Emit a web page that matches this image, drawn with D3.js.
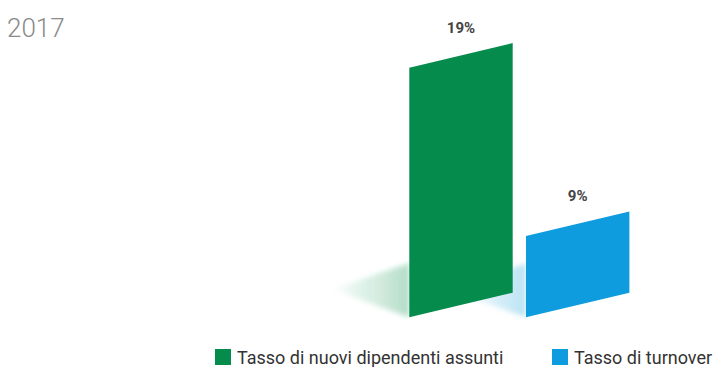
<!DOCTYPE html>
<html>
<head>
<meta charset="utf-8">
<script src="https://cdn.jsdelivr.net/npm/d3@7/dist/d3.min.js"></script>
<style>
  html, body { margin: 0; padding: 0; background: #fff; }
  svg { display: block; font-family: Roboto, "Noto Sans", sans-serif; }
</style>
</head>
<body>
<svg id="chart" width="714" height="367"></svg>
<script>
// Data
const title = "2017";
const categories = ["Tasso di nuovi dipendenti assunti", "Tasso di turnover"];
const values = [19, 9];
const valueLabels = ["19%", "9%"];
const colors = ["#058c4c", "#0e9cdf"];
const shadowColors = ["#1c9a5c", "#3aaee0"];

const svg = d3.select("#chart");
const defs = svg.append("defs");

// Layout
const baseY = 317.3;      // bottom of bars at their left edge
const skew = 24.6;        // rise of top/bottom edges across one bar
const scaleFloor = 4.17;  // value that maps to zero height

const x = d3.scaleBand()
  .domain(categories)
  .range([409.3, 629.4])
  .paddingInner(0.114)
  .paddingOuter(0);

const h = d3.scaleLinear()
  .domain([scaleFloor, 19])
  .range([0, 249.6]);

const bw = x.bandwidth();

// Soft shadow filter
defs.append("filter")
  .attr("id", "soft")
  .attr("x", "-20%").attr("y", "-30%").attr("width", "140%").attr("height", "160%")
  .append("feGaussianBlur").attr("stdDeviation", 2.5);

categories.forEach((c, i) => {
  const g = defs.append("linearGradient")
    .attr("id", "shade" + i)
    .attr("x1", "1").attr("y1", "0").attr("x2", "0").attr("y2", "0");
  g.append("stop").attr("offset", "0").attr("stop-color", shadowColors[i]).attr("stop-opacity", 0.34);
  g.append("stop").attr("offset", "0.55").attr("stop-color", shadowColors[i]).attr("stop-opacity", 0.14);
  g.append("stop").attr("offset", "1").attr("stop-color", shadowColors[i]).attr("stop-opacity", 0);
});

// Shadows lying behind each bar
const shadowLayer = svg.append("g");
shadowLayer.selectAll("path")
  .data(categories)
  .join("path")
  .attr("d", c => {
    const xl = x(c);
    return `M${xl},${baseY} L${xl},${baseY - 54} L${xl - 78},${baseY - 28} Z`;
  })
  .attr("fill", (c, i) => `url(#shade${i})`)
  .attr("filter", "url(#soft)");

// Skewed bars
const bars = svg.append("g");
bars.selectAll("path")
  .data(categories)
  .join("path")
  .attr("d", (c, i) => {
    const xl = x(c), xr = xl + bw;
    const hh = h(values[i]);
    return `M${xl},${baseY} L${xr},${baseY - skew} L${xr},${baseY - skew - hh} L${xl},${baseY - hh} Z`;
  })
  .attr("fill", (c, i) => colors[i]);

// Value labels
svg.append("g").selectAll("text")
  .data(categories)
  .join("text")
  .attr("x", c => x(c) + bw / 2)
  .attr("y", (c, i) => baseY - skew / 2 - h(values[i]) - 22.5)
  .attr("text-anchor", "middle")
  .attr("font-size", 15)
  .attr("font-weight", 700)
  .attr("fill", "#444")
  .text((c, i) => valueLabels[i]);

// Title
svg.append("text")
  .attr("x", 7)
  .attr("y", 37)
  .attr("font-size", 26)
  .attr("font-weight", 300)
  .attr("fill", "#8a8a8a")
  .text(title);

// Legend
const legendX = [215, 552];
const legend = svg.append("g").selectAll("g")
  .data(categories)
  .join("g")
  .attr("transform", (c, i) => `translate(${legendX[i]},349)`);
legend.append("rect")
  .attr("width", 16).attr("height", 16)
  .attr("fill", (c, i) => colors[i]);
legend.append("text")
  .attr("x", 22)
  .attr("y", 14.5)
  .attr("font-size", 18)
  .attr("fill", "#333")
  .text(c => c);
</script>
</body>
</html>
